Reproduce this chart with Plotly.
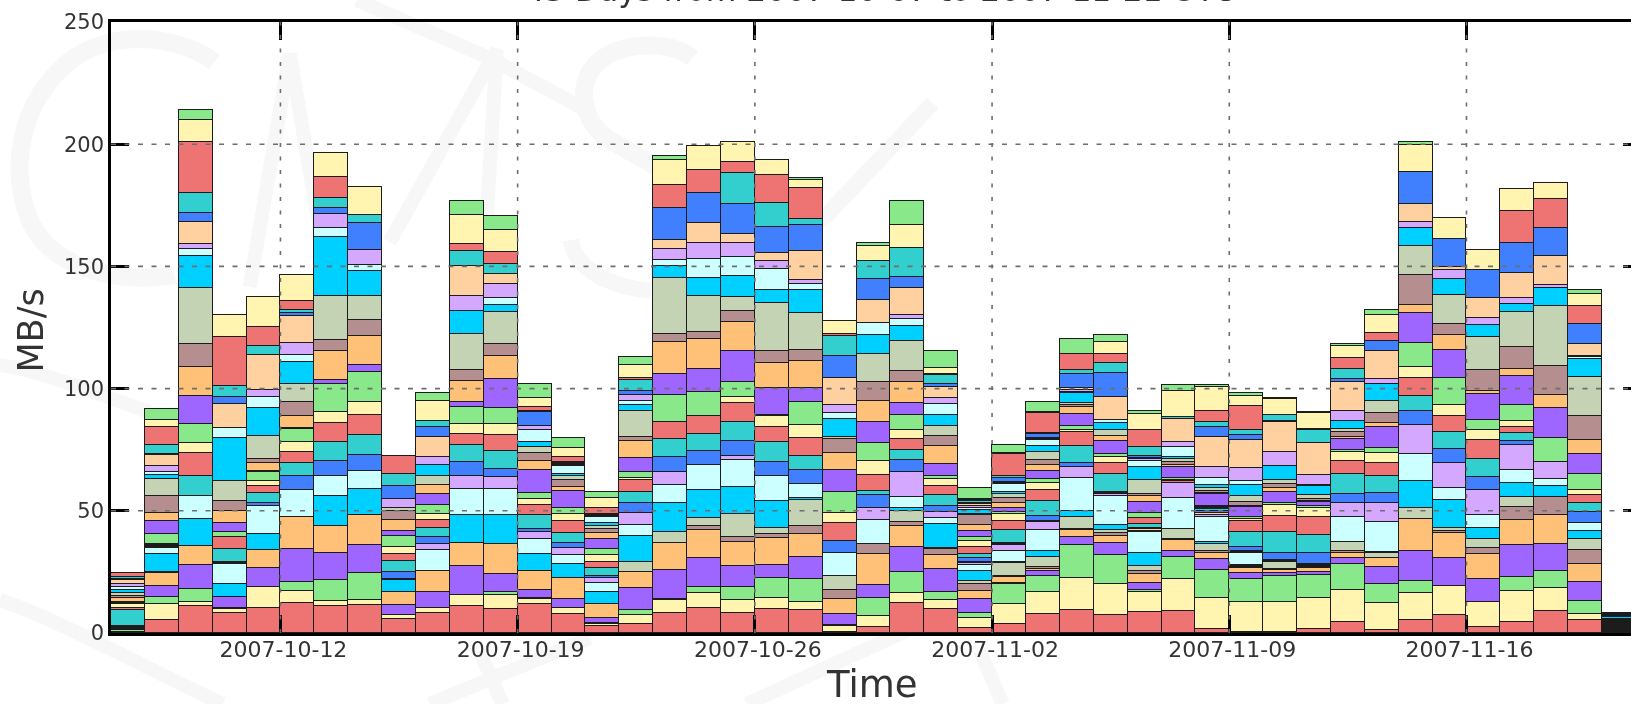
import plotly.graph_objects as go

# Day on which each bar starts
dates = ["2007-10-%02d" % d for d in range(7, 32)] + ["2007-11-%02d" % d for d in range(1, 21)]

# Colour cycle of the stack, bottom to top
palette = ["#ee7373", "#fff4b0", "#88e88a", "#9f66ff", "#ffc078", "#b58f8f", "#c5d3b5",
           "#00d0ff", "#ccffff", "#d4a8ff", "#ffd0a0", "#4080ff", "#33cfcf"]
n_series = 29

# Top of each bar, MB/s
bar_tops = [24.6, 91.6, 214, 130, 137.5, 146.5, 196.3, 182.4, 72.3, 98.1, 176.9, 170.7, 102, 79.6, 57.8,
            112.8, 195.3, 199.2, 201.1, 193.6, 186.3, 127.6, 159.6, 176.9, 115.5, 59.4, 77.1, 94.4, 120.3,
            122, 90.7, 101.3, 101.6, 98.1, 96.1, 90.5, 118.3, 132.1, 200.8, 169.7, 156.6, 181.5, 184.2, 140.4, 8.3]

# Visible band heights per day (bottom to top), as read between the outlines
d01 = [.2,.2,.7,.2,.2,.2,.2,.2,.2,.2,.2,.2,6.2,1,1.4,.5,.5,1.4,1.1,1.2,1.2,1,1.4,1.4,.7,.7,1.4,.1,.1]
d02 = [5.3,6.2,2.8,4.8,5.1,.2,.2,7.3,2.3,.4,.4,.4,.4,0,0,3.9,5.5,2.9,7.2,6.5,1.8,1.2,2.3,4.6,.3,3.5,7.6,2.8,4.2]
d03 = [10.8,1.8,5.4,9.4,8,0,0,10.8,9.3,0,0,0,8.3,9.4,3.7,8,11.3,11.7,9.4,22.8,12.7,2.8,2.3,8.7,3.7,8.3,20.5,9,4.1]
d04 = [7.7,1.8,.2,4.4,.2,0,0,4.8,8,.2,.2,.5,4.8,4.8,0,2.1,3.3,4.8,3.9,8,16.6,4.1,0,9.3,3,4.3,19.2,8.4,0]
d05 = [9.7,8,0,7.2,6.9,0,0,6.1,10.6,0,.2,1.1,3.7,2.8,1.9,3.5,.2,3,1.7,8.6,11,4.1,2.5,13.4,.2,3.5,7.3,11.3,0]
d06 = [11.5,4.8,3.5,12.7,12.4,0,0,0,10.4,0,0,5.5,5.1,4.1,4,5.1,.3,4.6,5.4,6.9,8.6,2.5,4.6,10.6,1.2,1.2,3.5,10,0]
d07 = [10.8,2,8,10.9,10.7,0,0,11.6,7.9,0,0,5.9,7.8,7.2,4.4,11.2,1.4,11.7,4.2,17.3,23.5,3.2,5.9,0,2.1,4.1,8.3,9.3,0]
d08 = [10.8,2.2,10.7,10.6,11.8,0,0,10.5,6.9,0,0,6.2,8,7.9,5.1,11.5,2.8,11.3,6.2,9.7,9.7,2.5,5.7,0,10.5,3.2,0,10.9,0]
d09 = [5,1.8,0,3.5,5,0,0,4.1,.3,.2,.2,2.3,4.1,2.8,2.5,4.1,1.7,4.1,3.5,.8,0,.3,3,0,4.8,4.6,6.5,0,0]
d10 = [7.7,1.7,0,5.9,8,0,0,0,7.9,2.3,0,2.5,3.5,3.2,2.3,3.3,4.1,3.5,0,3.2,4.1,0,3.2,7.6,3.5,2.3,0,7.5,3]
d11 = [10.5,4.1,0,11.5,8.6,0,0,11,10.2,4.8,0,5.4,6.9,4.1,3.9,6.5,2.1,7.9,4.4,14.1,8.7,0,5.8,11.6,0,5.9,2.8,11.3,5.4]
d12 = [9.4,5.1,1.4,6.9,11.5,0,0,11,10.2,4.4,0,3.2,6.9,6.2,4.1,6.2,11.3,9,4.3,12.3,3,2.6,5.3,3.9,0,3.7,4.8,8.4,5.5]
d13 = [10.8,1.7,.5,3,6.8,0,0,6.2,5.7,2.5,0,1.1,5.3,3.5,2.3,2.1,8.7,3.3,2.8,2.1,2.1,4.4,1.4,0,5.1,.5,1.4,3.5,5.1]
d14 = [6.9,2.1,0,3.2,7.6,0,0,4.8,3.2,2.5,0,1.7,3.9,4,2.5,2.1,6.2,1.4,2.6,1.4,.7,3,.3,.3,.3,.3,1.8,3.2,3.5]
d15 = [2.5,.7,.3,1.7,5.1,0,0,4.1,3.2,1.7,.3,.6,2.9,2.1,2.3,2.3,3.5,2.2,1.4,1,.9,2.1,.3,.3,.3,.3,2.1,3.7,2.1]
d16 = [3.2,3.3,2.1,8.2,5.9,0,3.5,9.7,4,4.4,0,4,4.1,4.4,.5,2.5,5.1,6.1,1.7,9.4,2.2,1.8,2.2,0,1.4,4.1,.8,4.6,2.9]
d17 = [7.7,5,.5,11,10.6,0,4.1,11.3,6.9,5,0,5.7,6.9,6.9,0,10.4,7.9,12.4,3,21.8,4.6,2.3,4.1,3.5,12.4,0,8.8,9.7,1.7]
d18 = [9.7,5.9,2.2,11.5,10.6,1.7,3.2,11,9.7,0,0,5.3,6.6,7.2,0,9.3,8.8,11.7,2.6,14.1,6.9,7.6,6.2,7.6,12,0,8.7,9.4,0]
d19 = [7.7,5,5,8.3,9.1,2.1,8.6,10.4,10.5,1.8,0,5.8,7.3,7.2,2.5,5.8,11.7,11.3,4.1,5.5,8,7.6,5.5,3.3,11.5,12.2,4.1,7.9,0]
d20 = [9.4,4.1,7.6,5.3,10.4,1.7,2.3,10.4,9.7,0,0,5.3,7.6,5.9,4.1,.7,10.4,9.7,4.4,18.7,5.1,7.9,3.3,3,10,9.4,10.8,5.9,0]
d21 = [8.7,3.3,8.6,8.7,8.7,3.3,9.7,.9,5.3,0,0,5.3,5.5,6.9,5.1,8.6,5.5,10.4,4.1,14.5,8.7,2.3,1.5,11.3,10,2.3,11.7,3.2,.9]
d22 = [.4,2.1,.6,3.9,5.8,3.3,5.1,0,8.7,0,0,4.3,0,6.8,3.5,7.9,8,6.6,5.1,.6,6.9,2.3,3,9.7,8.2,7.6,.7,4.8,0]
d23 = [2.2,4.1,6.9,5.1,11.6,3.9,0,0,9.4,4.4,0,5.1,1.4,6.2,5.1,6.8,8,8.3,7.2,10.4,7.2,4.8,0,8.7,7.9,7,0,5.8,1]
d24 = [11.5,4,7.9,9.7,7.9,1.7,4,1.4,4,9.7,0,4.4,4,4.1,3.5,5.7,4.8,7.9,4.4,11.3,5.9,2.5,1.7,10.2,4.4,11.3,0,8.7,9.3]
d25 = [8.7,3.3,3,8.7,5,2.1,.4,8.7,2.3,2.3,0,2.3,4.1,3.2,2.5,1.2,4.4,6.6,3.5,3.9,3.9,4.1,2.3,4.1,.9,3.5,.2,2.2,6.4]
d26 = [1.8,3.2,1.9,4.8,2.9,2.3,1,3.5,2.1,.5,.5,1.4,1.4,2.1,2.1,1.4,2,2.1,3.5,.5,1.4,.6,.6,.6,.6,.6,.4,.4,3.7]
d27 = [3.2,6.9,6.8,.3,2.1,.5,4.4,.4,3.7,1.9,.4,.4,4.6,3,2.3,.7,1.4,1.7,1.7,1.4,.6,3,.3,.3,1.4,.7,7.6,.2,3]
d28 = [6.9,7.6,5.8,1.8,.6,.8,3.5,2.1,7.6,3,.3,1.7,5.5,3.7,2.5,1.4,3,2.1,1.7,3,2.1,2.3,.3,.3,1.4,.3,7.3,.2,3.5]
d29 = [8.7,11.6,12.4,2.8,2.5,.7,4.1,2.3,12.4,3.9,0,1.4,6.5,5.3,.5,1.4,4.8,2.3,1,.5,3.7,.6,.6,.6,5.3,1.7,5.8,0,5.5]
d30 = [6.9,11.5,10.6,4.6,2.6,1.2,1.2,1.9,10.8,.5,.5,.5,6.5,4.4,2.1,1.1,4.8,2.1,0,2.3,2.3,1.4,0,8.3,9,3.9,3.3,4.4,2.8]
d31 = [7.7,7,.8,2.5,3.2,1,1.9,4.7,7.6,.5,.5,.5,1.4,2.1,0,1.9,3.9,2.1,.8,5.1,4.6,2.3,.5,.5,.6,3.2,6.2,5.9,.8]
d32 = [7.7,11.5,7.6,2.2,4.1,.3,3.5,0,11,5.4,0,0,0,.6,.5,.6,3.7,1,1,1,.7,3.5,1.7,8.3,0,.8,0,9,2.1]
d33 = [1.5,11.7,10.4,3.9,2.3,.8,2.6,.8,9.4,.7,.7,.7,.7,.4,.4,.4,4.4,.5,.5,1.1,1.4,2.6,3.9,11.3,3.9,1.7,4,9,.9]
d34 = [.2,11.4,8.6,2.1,1.7,.4,.4,.4,4.6,.3,.3,1.4,5.8,4,.7,.7,3.7,.6,1.4,2.1,4.1,1.7,4.8,10.4,1.6,2,9,3.7,1]
d35 = [.2,11.4,9.5,1.1,1.2,.2,2.5,.2,.2,.2,.2,2.6,7.9,5.9,3.9,.8,4.1,1.4,1.4,1.7,5,.2,5,11.1,.4,2.1,0,5.8,.5]
d36 = [1.4,11.5,8.7,1.2,1.5,.2,.3,.2,.2,.2,.2,4.1,6.9,6.6,3.3,.8,1.7,.4,.5,1.4,3.6,.3,3.9,11.6,.3,4.8,.2,6.2,.3]
d37 = [3.9,11.7,9.4,2.1,2.1,.4,3.3,.2,9,5.1,0,3.2,7.3,4.8,3.2,.8,3.9,.7,1.8,1.2,2.8,0,3.7,10.4,1.4,3.5,4.1,4.1,.9]
d38 = [1.1,10.2,6.9,6.5,3.2,.3,1.8,.3,11.3,6.9,0,3.9,6.1,5.1,3.5,2.1,7.7,1.4,3.7,4.7,6.2,0,2.1,10.4,3.5,0,3,6.9,1.8]
d39 = [5,10.5,4.8,11.7,12.4,0,4.1,10.4,10.6,11.3,0,5.4,5.9,6.9,4.1,9.4,11.6,3.2,11.7,11.3,6.9,0,2.3,6.8,12.7,0,0,10.4,1]
d40 = [6.9,11.3,0,10.6,9.7,1,.9,11,4.8,9.7,0,5.3,6.6,6.2,4.1,10.6,10.6,6,4.1,11.3,6.1,0,3.5,1.2,10.8,0,0,8,0]
d41 = [2.2,9.7,0,8.6,9.7,2.3,3.3,4.4,4.8,9.5,0,5.1,6.9,7.2,3.7,4.1,9.7,1.4,7.9,12.4,4.8,0,2.5,7.6,10.8,0,0,7.6,0]
d42 = [4.1,12.2,5.3,12.3,9.7,5.1,4,5.3,4.8,9.7,0,1.7,3,2.3,2.3,6.1,11.5,2.5,8.6,13.4,3,0,2.3,9.7,11.7,0,12.4,8.3,0]
d43 = [8.7,8.8,6.9,10.4,11.5,6.9,0,4.1,2.8,6.6,0,0,0,0,0,9.5,11.7,5.1,11.3,23.5,7,0,1.4,11.3,11,0,11.3,6.2,0]
d44 = [5,2.1,5.1,6.9,6.9,5.3,4,3.2,2.9,0,0,3.9,3.5,3.2,1.7,6.1,7.6,5.1,9,14.7,6.9,.4,.4,4.6,7.7,0,6.6,4.4,1.7]
d45 = [.2,.2,.2,.3,.3,.6,.2,.2,.2,.2,.2,.6,.2,.2,.2,.2,.3,.3,.6,.2,1.1,.2,.2,.2,.2,.2,.2,.2,.2]

days = [d01,d02,d03,d04,d05,d06,d07,d08,d09,d10,d11,d12,d13,d14,d15,d16,d17,d18,d19,d20,d21,d22,d23,
        d24,d25,d26,d27,d28,d29,d30,d31,d32,d33,d34,d35,d36,d37,d38,d39,d40,d41,d42,d43,d44,d45]
for i, d in enumerate(days):
    assert len(d) == n_series, (i, len(d))

fitted = [[v * top / sum(d) for v in d] for d, top in zip(days, bar_tops)]

x_ticks = ["2007-10-12", "2007-10-19", "2007-10-26", "2007-11-02", "2007-11-09", "2007-11-16"]
y_ticks = [0, 50, 100, 150, 200, 250]
title_text = "45 Days from 2007-10-07 to 2007-11-21 UTC"

FONT = "DejaVu Sans"
TXT = "#333333"
L, R, T, B = 111.4, 1641.0, 22.0, 633.0
W, H = 1660, 704

fig = go.Figure()
for s in range(n_series):
    fig.add_trace(go.Bar(
        x=dates, y=[row[s] for row in fitted], width=86400000, offset=0,
        marker=dict(color=palette[s % len(palette)], line=dict(color="#1c1c1c", width=1)),
        showlegend=False, hoverinfo="skip"))

def px(x): return (x - L) / (R - L)
def py(y): return (B - y) / (B - T)
def wm(points, width=18):
    """Faint background logo stroke, through pixel positions of the page."""
    d = "M " + " ".join(("%s " % p if isinstance(p, str) else "%.4f,%.4f " % (px(p[0]), py(p[1]))) for p in points)
    return dict(type="path", xref="paper", yref="paper", path=d, layer="below",
                line=dict(color="#f7f7f7", width=width))

shapes = [
    wm([(215,62), "C", (170,30), (100,30), (60,70), "C", (20,110), (10,170), (30,220), "C", (50,265), (110,285), (175,275)]),
    wm([(0,365), "C", (40,370), (100,395), (150,412)], 14),
    wm([(693,58), "C", (670,40), (620,40), (595,65), "C", (575,90), (585,125), (610,140), "L", (680,180)]),
    wm([(571,240), "C", (575,265), (600,285), (651,291)], 16),
    wm([(250,287), "L", (290,54), "L", (330,287)], 14),
    wm([(390,242), "L", (497,50), "L", (483,287)], 14),
    wm([(357,0), "L", (490,58), "L", (590,112)], 14),
    wm([(933,103), "L", (826,216), "L", (700,300)], 16),
    wm([(980,651), "L", (1003,704)], 14),
    wm([(747,704), "L", (913,628)], 14),
    wm([(0,600), "C", (60,620), (150,670), (223,704)], 14),
    wm([(430,704), "L", (590,638)], 14),
    wm([(480,651), "L", (503,704)], 14),
]
# Dotted grid lies over the bars in the reference
for v in y_ticks[1:-1]:
    shapes.append(dict(type="line", xref="paper", yref="y", x0=0, x1=1, y0=v, y1=v, layer="above",
                       line=dict(color="#6e6e6e", width=1.6, dash="5px,8.5px")))
for t in x_ticks:
    shapes.append(dict(type="line", xref="x", yref="paper", x0=t, x1=t, y0=0, y1=1, layer="above",
                       line=dict(color="#6e6e6e", width=1.6, dash="4px,9.5px")))

fig.update_layout(
    width=W, height=H, barmode="stack", bargap=0,
    margin=dict(l=L, r=W - R, t=T, b=H - B, pad=0, autoexpand=False),
    paper_bgcolor="white", plot_bgcolor="rgba(0,0,0,0)",
    font=dict(family=FONT, color=TXT), showlegend=False, shapes=shapes,
    annotations=[
        dict(text=title_text, xref="paper", yref="paper", x=px(880), y=py(10.5), xanchor="center",
             yanchor="bottom", showarrow=False, font=dict(family=FONT, size=31.4, color=TXT)),
        dict(text="Time", xref="paper", yref="paper", x=px(872), y=py(684.5), xanchor="center",
             yanchor="middle", showarrow=False, font=dict(family=FONT, size=37, color=TXT)),
        dict(text="MB/s", xref="paper", yref="paper", x=px(31), y=py(331), xanchor="center",
             yanchor="middle", textangle=-90, showarrow=False, font=dict(family=FONT, size=35, color=TXT)),
    ],
    xaxis=dict(type="date", range=["2007-10-07", "2007-11-21 03:36"], tickvals=x_ticks, ticktext=x_ticks,
               ticks="inside", ticklen=18, tickwidth=3, tickcolor="#000", showgrid=False, automargin=False,
               showline=True, linecolor="#000", linewidth=2.5, mirror="ticks", zeroline=False,
               ticklabelstandoff=-5, ticklabelshift=3,
               tickfont=dict(family=FONT, size=22, color=TXT)),
    yaxis=dict(range=[0, 250], tickvals=y_ticks, ticks="inside", ticklen=18, tickwidth=3, tickcolor="#000",
               showgrid=False, showline=True, linecolor="#000", linewidth=2.5, mirror="ticks", zeroline=False,
               automargin=False, tickfont=dict(family=FONT, size=21, color=TXT)),
)

fig.write_html("out.html", config=dict(displayModeBar=False),
               post_script="document.body.style.margin='0';document.documentElement.style.overflow='hidden';document.body.style.overflow='hidden';"
                           "document.querySelector('.js-plotly-plot').style.filter='blur(0.5px)';")
